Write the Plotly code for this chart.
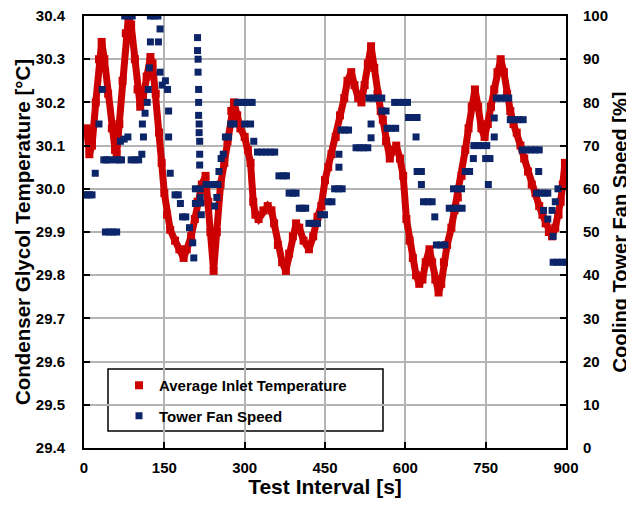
import plotly.graph_objects as go

# Average inlet temperature (°C)
temp_t = [0, 5, 10, 15, 22, 28, 33, 38, 45, 52, 58, 61, 66, 72, 78, 83, 88, 95, 100, 105,
          110, 117, 124, 128, 134, 140, 145, 150, 155, 161, 170, 178, 186, 192, 200, 207, 212, 220, 227, 232,
          236, 242, 248, 255, 262, 268, 275, 280, 286, 292, 300, 306, 311, 316, 320, 326, 335, 343, 350, 355,
          362, 370, 377, 383, 390, 396, 402, 410, 420, 428, 436, 443, 450, 456, 462, 470, 478, 486, 492, 499,
          505, 512, 518, 524, 530, 536, 542, 548, 554, 558, 564, 571, 577, 583, 590, 596, 602, 608, 614, 620,
          626, 632, 638, 645, 650, 656, 662, 667, 672, 678, 686, 692, 698, 705, 712, 718, 724, 730, 736, 742,
          748, 754, 760, 766, 772, 778, 784, 790, 796, 802, 808, 815, 822, 829, 836, 843, 850, 856, 862, 868,
          874, 880, 886, 890, 894, 898]
temp_v = [30.13, 30.14, 30.08, 30.10, 30.20, 30.30, 30.34, 30.30, 30.22, 30.14, 30.09, 30.08, 30.15, 30.25, 30.36, 30.40, 30.38, 30.30, 30.23, 30.19,
          30.21, 30.26, 30.305, 30.29, 30.22, 30.13, 30.06, 29.99, 29.94, 29.905, 29.88, 29.86, 29.84, 29.86, 29.89, 29.93, 29.97, 30.01, 30.03, 29.97,
          29.90, 29.81, 29.90, 30.01, 30.06, 30.11, 30.18, 30.20, 30.17, 30.14, 30.12, 30.09, 30.06, 29.97, 29.94, 29.93, 29.95, 29.96, 29.95, 29.92,
          29.87, 29.83, 29.81, 29.85, 29.89, 29.92, 29.91, 29.88, 29.86, 29.89, 29.935, 29.96, 30.02, 30.05, 30.08, 30.12, 30.17, 30.21, 30.25, 30.27,
          30.24, 30.21, 30.20, 30.24, 30.29, 30.33, 30.28, 30.22, 30.18, 30.16, 30.11, 30.07, 30.09, 30.10, 30.07, 30.03, 29.93, 29.88, 29.84, 29.80,
          29.78, 29.79, 29.83, 29.86, 29.83, 29.79, 29.76, 29.78, 29.83, 29.87, 29.91, 29.95, 29.98, 30.03, 30.09, 30.14, 30.19, 30.23, 30.19, 30.14,
          30.12, 30.15, 30.19, 30.23, 30.27, 30.30, 30.27, 30.22, 30.18, 30.15, 30.13, 30.10, 30.07, 30.04, 30.01, 29.99, 29.96, 29.94, 29.92, 29.90,
          29.89, 29.91, 29.94, 29.97, 30.01, 30.06]

# Tower fan speed (%)
fan_t = [0, 5, 10, 15, 21, 28, 34, 37, 42, 47, 40, 47, 54, 61, 58, 65, 70, 68, 75, 82,
         76, 83, 90, 88, 95, 102, 108, 109, 111, 114, 118, 120, 122, 124, 124, 131, 138, 142, 139, 142,
         146, 152, 156, 158, 158, 161, 170, 176, 180, 184, 190, 197, 203, 205, 208, 208, 212, 212, 213, 213,
         214, 214, 214, 215, 215, 216, 216, 216, 217, 217, 218, 219, 228, 236, 244, 250, 244, 248, 252, 256,
         260, 264, 270, 274, 280, 286, 293, 300, 307, 314, 300, 311, 317, 324, 332, 340, 348, 356, 364, 372,
         378, 383, 390, 396, 402, 408, 414, 420, 428, 436, 442, 449, 456, 463, 468, 475, 482, 476, 476, 480,
         487, 494, 508, 515, 522, 530, 536, 536, 532, 540, 548, 556, 556, 564, 566, 574, 582, 580, 588, 596,
         604, 606, 614, 622, 620, 622, 630, 630, 634, 642, 650, 655, 658, 666, 674, 682, 690, 698, 706, 690,
         698, 705, 712, 720, 727, 728, 736, 744, 752, 750, 758, 755, 766, 766, 770, 778, 786, 793, 796, 804,
         812, 820, 818, 826, 834, 842, 850, 849, 845, 852, 860, 866, 858, 866, 874, 880, 885, 876, 876, 884,
         892, 900]
fan_v = [58.6, 58.6, 58.6, 58.6, 63.6, 75, 83, 66.7, 66.7, 66.7, 50, 50, 50, 50, 66.7, 66.7, 66.7, 71, 71.5, 72,
         100, 100, 100, 66.7, 66.7, 66.7, 68, 75, 72, 77.5, 80, 83, 88, 94, 100, 100, 100, 97, 94, 87,
         84, 85, 83, 78, 72, 63.6, 58.6, 58.6, 56.6, 53.5, 53.5, 51, 47.5, 44, 56.6, 60, 95, 92, 90, 87,
         83, 80, 77, 75, 73, 71, 68, 65.5, 60, 58, 56.7, 54, 61, 61, 61, 61, 56, 58, 64, 67,
         68, 72, 72, 75, 75, 80, 80, 80, 80, 80, 75, 75, 71, 68.5, 68.5, 68.5, 68.5, 68.5, 63, 63,
         63, 59, 59, 59, 55.5, 55.5, 55.5, 52, 52, 52, 54, 54, 57, 57, 60, 60, 60, 65, 68, 73.6,
         73.6, 73.6, 69.5, 69.5, 69.5, 69.5, 71.8, 75, 81, 81, 81, 81, 78, 78, 74, 74, 74, 80, 80, 80,
         80, 76.5, 76.5, 76.5, 72, 64, 64, 61, 57, 57, 57, 53.5, 47, 47, 47, 55.5, 55.5, 55.5, 55.5, 60,
         60, 60, 64, 64, 67, 70, 70, 70, 70, 67, 67, 61, 72, 76.4, 81, 81, 81, 81, 76, 76,
         76, 76, 69, 69, 69, 69, 69, 64, 59, 59, 59, 59, 55, 53, 55, 57, 60, 49, 43, 43,
         43, 43]

x_ticks = [0, 150, 300, 450, 600, 750, 900]
temp_ticks = [29.4, 29.5, 29.6, 29.7, 29.8, 29.9, 30.0, 30.1, 30.2, 30.3, 30.4]
fan_ticks = [0, 10, 20, 30, 40, 50, 60, 70, 80, 90, 100]

RED = "#cc0000"
BLUE = "#0c2468"
FONT = "Liberation Sans, Arial, sans-serif"

fig = go.Figure()
fig.add_trace(go.Scatter(x=temp_t, y=temp_v, mode="lines", line=dict(color=RED, width=7),
                         showlegend=False, hoverinfo="skip"))
fig.add_trace(go.Scatter(x=temp_t, y=temp_v, mode="markers", name="Average Inlet Temperature",
                         marker=dict(symbol="square", size=8, color=RED), legendgroup="a"))
fig.add_trace(go.Scatter(x=fan_t, y=fan_v, mode="markers", name="Tower Fan Speed", yaxis="y2",
                         marker=dict(symbol="square", size=7, color=BLUE), legendgroup="b"))

axis_common = dict(showline=True, linecolor="black", linewidth=2, ticks="inside", ticklen=6,
                   tickwidth=1.5, tickcolor="black", gridcolor="#b4b4b4", gridwidth=2,
                   zeroline=False, automargin=False, ticklabeloverflow="allow",
                   tickfont=dict(family=FONT, size=15, color="black", weight="bold"))

# page body adds an 8px offset, so the figure is smaller and the margins compensate
fig.update_layout(
    width=626, height=490,
    margin=dict(l=76, r=68, t=8, b=50),
    paper_bgcolor="white", plot_bgcolor="white",
    xaxis=dict(range=[0, 900], tickvals=x_ticks, mirror=True, ticklabelstandoff=5, showgrid=True,
               title=dict(text="Test Interval [s]", font=dict(family=FONT, size=21, color="black", weight="bold"), standoff=13),
               **axis_common),
    yaxis=dict(range=[29.4, 30.4], tickvals=temp_ticks, tickformat=".1f", ticklabelstandoff=14, showgrid=True,
               title=dict(text="Condenser Glycol Temperature [°C]", font=dict(family=FONT, size=20.5, color="black", weight="bold"), standoff=0),
               **axis_common),
    yaxis2=dict(range=[0, 100], tickvals=fan_ticks, overlaying="y", side="right", ticklabelstandoff=12, showgrid=False,
                title=dict(text="Cooling Tower Fan Speed [%]", font=dict(family=FONT, size=20, color="black", weight="bold"), standoff=6),
                **axis_common),
    legend=dict(x=(119 - 84) / 482, y=(448 - 369) / 432, xanchor="left", yanchor="top",
                bgcolor="rgba(0,0,0,0)", borderwidth=0, traceorder="grouped", tracegroupgap=8,
                font=dict(family=FONT, size=15, color="black", weight="bold"), itemwidth=30),
    shapes=[dict(type="rect", xref="paper", yref="paper",
                 x0=(108 - 84) / 482, x1=(383 - 84) / 482,
                 y0=(448 - 431) / 432, y1=(448 - 369) / 432,
                 line=dict(color="black", width=1.5), fillcolor="white", layer="below")],
)

fig.write_html("out.html")
